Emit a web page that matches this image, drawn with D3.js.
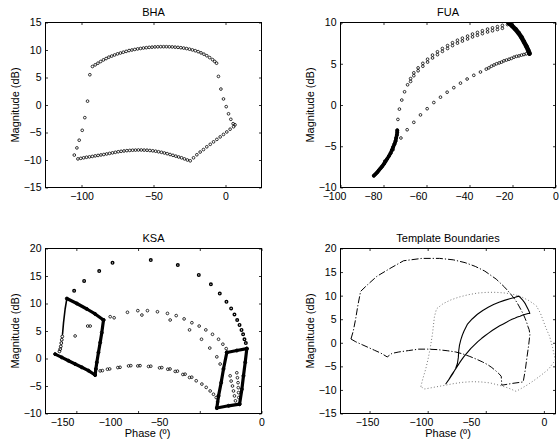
<!DOCTYPE html>
<html>
<head>
<meta charset="utf-8">
<script src="https://cdn.jsdelivr.net/npm/d3@7"></script>
<style>
  body { margin: 0; background: #fff; }
  svg text { font-family: "Liberation Sans", Arial, Helvetica, sans-serif; fill: #000; }
</style>
</head>
<body>
<svg id="fig" width="559" height="446"></svg>
<script>
'use strict';

// ---- tick values ----
const bhaXTicks = [-100, -50, 0];
const bhaYTicks = [-15, -10, -5, 0, 5, 10, 15];
const fuaXTicks = [-100, -80, -60, -40, -20, 0];
const fuaYTicks = [-10, -5, 0, 5, 10];
const ksaXTicks = [-150, -100, -50, 0];
const ksaYTicks = [-10, -5, 0, 5, 10, 15, 20];
const tplXTicks = [-150, -100, -50, 0];
const tplYTicks = [-15, -10, -5, 0, 5, 10, 15, 20];

// where the reference prints each x tick label (in axis units; the source figure
// has its negative labels drifted left of their tick marks)
const bhaXLabelAt = [-100, -50, 0];
const fuaXLabelAt = [-103, -84.9, -64, -42.6, -24, 0];
const ksaXLabelAt = [-161.6, -122.7, -83, 0];
const tplXLabelAt = [-152.2, -105.8, -62.8, 0];

// ---- BHA template points [phase, magnitude] ----
const bhaLeft = [[-105, -9.1], [-103.2, -7.8], [-101.6, -6.4], [-99.5, -4.6], [-97.7, -2.3], [-95.8, 0.7], [-94.2, 5.5]];
const bhaTop = [[-92.4, 7.0], [-90.5, 7.3], [-88.6, 7.6], [-86.7, 7.9], [-84.8, 8.2], [-82.9, 8.45], [-81, 8.7],
  [-79, 8.9], [-77, 9.1], [-75, 9.3], [-73, 9.45], [-71, 9.6], [-69, 9.75], [-67, 9.9], [-65, 10.0], [-63, 10.1],
  [-61, 10.2], [-59, 10.28], [-57, 10.36], [-55, 10.42], [-53, 10.48], [-51, 10.52], [-49, 10.56], [-47, 10.58],
  [-45, 10.6], [-43, 10.6], [-41, 10.6], [-39, 10.58], [-37, 10.56], [-35, 10.52], [-33, 10.48], [-31, 10.42],
  [-29, 10.35], [-27, 10.26], [-25, 10.15], [-23, 10.02], [-21, 9.87], [-19, 9.7], [-17, 9.48], [-15, 9.24],
  [-13, 8.96], [-11, 8.62], [-9, 8.25], [-7.5, 7.92], [-6.2, 7.6]];
const bhaRight = [[-4.9, 5.2], [-3.2, 2.9], [-1.4, 1.1], [0.5, -0.3], [2.1, -1.6], [3.7, -2.6], [5.3, -3.4], [6.6, -3.6]];
const bhaSlope = [[5.6, -3.95], [3.2, -4.4], [0.9, -4.9], [-1.4, -5.35], [-3.7, -5.8], [-6.0, -6.25], [-8.3, -6.7],
  [-10.6, -7.15], [-13.0, -7.6], [-15.3, -8.1], [-17.6, -8.55], [-19.9, -9.05], [-22.2, -9.6], [-24.5, -10.15]];
const bhaBottom = [[-26.5, -10.0], [-28.5, -9.8], [-30.5, -9.6], [-32.5, -9.45], [-34.5, -9.3], [-36.5, -9.15],
  [-38.5, -9.0], [-40.5, -8.85], [-42.5, -8.72], [-44.5, -8.6], [-46.5, -8.5], [-48.5, -8.4], [-50.5, -8.33],
  [-52.5, -8.27], [-54.5, -8.22], [-56.5, -8.2], [-58.5, -8.18], [-60.5, -8.18], [-62.5, -8.2], [-64.5, -8.22],
  [-66.5, -8.26], [-68.5, -8.3], [-70.5, -8.36], [-72.5, -8.42], [-74.5, -8.5], [-76.5, -8.6], [-78.5, -8.7],
  [-80.5, -8.8], [-82.5, -8.9], [-84.5, -9.0], [-86.5, -9.08], [-88.5, -9.17], [-90.5, -9.25], [-92.5, -9.35],
  [-94.5, -9.43], [-96.5, -9.5], [-98.5, -9.6], [-100.5, -9.7], [-102.5, -9.8]];

// ---- FUA template points ----
const fuaBendLow = [[-84.5, -8.57], [-83.7, -8.37], [-82.9, -8.16], [-82.2, -7.92], [-81.4, -7.67], [-80.6, -7.43],
  [-79.8, -7.14], [-79.1, -6.86], [-78.3, -6.53], [-77.5, -6.2], [-76.7, -5.84], [-76.1, -5.47], [-75.5, -5.1],
  [-74.9, -4.73], [-74.4, -4.37], [-74.1, -4.0], [-73.8, -3.63], [-73.6, -3.3], [-73.6, -3.06]];
const fuaUpper = [[-73.3, -1.75], [-72.6, -0.5], [-71.5, 0.6], [-70.2, 1.6], [-68.8, 2.45], [-67.4, 3.2], [-65.9, 3.9],
  [-63.9, 4.5], [-61.7, 5.05], [-59.5, 5.55], [-57.2, 6.05], [-54.9, 6.45], [-52.6, 6.85], [-50.2, 7.2],
  [-47.9, 7.55], [-45.6, 7.85], [-43.3, 8.1], [-40.9, 8.35], [-38.6, 8.6], [-36.3, 8.8], [-34.0, 9.0],
  [-31.6, 9.2], [-29.3, 9.35], [-27.0, 9.5], [-24.7, 9.65], [-22.3, 9.75]];
const fuaUpperInner = [[-67.4, 2.85], [-65.9, 3.55], [-63.9, 4.15], [-61.7, 4.7], [-59.5, 5.2], [-57.2, 5.7],
  [-54.9, 6.1], [-52.6, 6.5], [-50.2, 6.85], [-47.9, 7.2], [-45.6, 7.5], [-43.3, 7.75], [-40.9, 8.0],
  [-38.6, 8.25], [-36.3, 8.45], [-34.0, 8.65], [-31.6, 8.85], [-29.3, 9.0], [-27.0, 9.15], [-24.7, 9.3]];
const fuaLower = [[-79.4, -6.8], [-75.5, -5.4], [-71.9, -4.0], [-69.0, -3.0], [-65.9, -2.1], [-62.8, -1.2],
  [-59.7, -0.45], [-56.6, 0.3], [-53.5, 0.95], [-50.4, 1.55], [-47.3, 2.1], [-44.2, 2.65], [-41.1, 3.15],
  [-38.0, 3.6], [-34.9, 4.0], [-32.2, 4.35], [-31.0, 4.5], [-29.8, 4.7], [-28.6, 4.85], [-27.4, 5.0],
  [-26.2, 5.1], [-25.1, 5.2], [-24.0, 5.35], [-22.8, 5.45], [-21.6, 5.55], [-20.5, 5.65], [-19.3, 5.8],
  [-18.1, 5.9], [-17.0, 5.95], [-15.8, 6.05], [-14.7, 6.12], [-13.6, 6.2]];
const fuaBendHigh = [[-21.7, 9.92], [-20.2, 9.6], [-18.6, 9.18], [-17.1, 8.69], [-15.8, 8.2], [-14.7, 7.67],
  [-13.6, 7.14], [-12.7, 6.65], [-12.1, 6.24]];

// ---- KSA template points ----
const ksaOuter = [[-151.8, 12.3], [-143.7, 14.1], [-131.5, 15.9], [-120.7, 17.4], [-89.7, 17.9], [-67.8, 17.0],
  [-50.8, 15.2], [-41.0, 13.5], [-33.8, 11.8], [-28.4, 10.3], [-24.6, 9.1], [-21.9, 8.0], [-19.7, 7.0],
  [-17.8, 6.1], [-16.2, 5.2], [-14.9, 4.4], [-13.8, 3.5], [-12.7, 2.8]];
const ksaMidUpper = [[-122.6, 7.6], [-108.6, 8.4], [-100.2, 8.7], [-92.4, 8.7], [-84.3, 8.5], [-76.2, 8.2],
  [-69.1, 7.8], [-62.7, 7.2], [-56.4, 6.5], [-50.5, 5.9], [-45.1, 5.2], [-39.7, 4.4], [-34.8, 3.5],
  [-31.3, 2.6], [-28.6, 1.8]];
const ksaMidInner = [[-119.4, 7.4], [-96.9, 7.9], [-74.0, 7.0], [-58.3, 5.2], [-48.6, 3.5], [-41.9, 1.9],
  [-36.2, 0.3], [-33.5, -1.0]];
const ksaBottom = [[-130.7, -2.25], [-124.8, -1.95], [-116.4, -1.65], [-107.7, -1.35], [-100.2, -1.35],
  [-91.5, -1.45], [-82.6, -1.7], [-75.9, -1.95], [-69.9, -2.35], [-63.7, -2.9], [-58.3, -3.45], [-52.9, -4.05],
  [-48.3, -4.65], [-44.8, -5.25], [-41.6, -5.9], [-38.9, -6.5], [-36.7, -7.1], [-35.6, -7.9]];
const ksaBottomPair = [[-128.9, -2.2], [-123.0, -1.9], [-114.6, -1.6], [-105.9, -1.3], [-98.4, -1.3],
  [-89.7, -1.4], [-80.8, -1.65], [-74.1, -1.9], [-68.1, -2.3], [-61.9, -2.85], [-56.5, -3.4]];
const ksaLeftTop = [[-157.7, 10.9], [-149.6, 10.0], [-141.5, 9.0], [-134.8, 8.1], [-128.0, 7.0]];
const ksaLeftRight = [[-128.0, 7.0], [-129.4, 4.7], [-130.7, 2.9], [-132.1, 1.1], [-133.4, -0.7], [-134.2, -1.9], [-134.8, -3.0]];
const ksaLeftBottom = [[-167.2, 0.8], [-161.8, 0.2], [-156.4, -0.4], [-151.0, -1.0], [-145.6, -1.6], [-140.2, -2.2], [-134.8, -3.0]];
const ksaLeftSide = [[-157.7, 10.9], [-159.1, 9.0], [-160.4, 6.5], [-161.2, 4.4]];
const ksaLeftStack = [[-161.4, 4.0], [-161.8, 3.4], [-162.2, 2.8], [-162.6, 2.2], [-163.1, 1.7], [-163.7, 1.3]];
const ksaLeftInner = [[-151.0, 4.1], [-140.8, 5.9], [-138.8, 5.9]];
const ksaRightTop = [[-28.1, 1.1], [-20.0, 1.45], [-11.9, 1.8]];
const ksaRightSide = [[-11.9, 1.8], [-13.2, -0.7], [-14.6, -3.15], [-15.9, -5.6], [-17.8, -8.3]];
const ksaRightBottom = [[-17.8, -8.3], [-26.7, -8.6], [-36.2, -9.0]];
const ksaRightLeft = [[-36.2, -9.0], [-34.8, -6.8], [-32.7, -4.4], [-30.8, -1.9], [-28.1, 1.1]];
const ksaRightInner = [[-25.4, -3.15], [-24.6, -4.1], [-23.5, -5.0], [-22.7, -5.9], [-21.9, -6.8], [-21.1, -7.7],
  [-20.0, -2.6], [-19.5, -3.5], [-19.0, -4.4], [-18.8, -5.3], [-18.6, -6.2], [-18.4, -7.1]];

// ---- template boundaries ----
const tplKsa = [[-166.0, 0.8], [-164.0, 2.5], [-162.0, 5.0], [-160.0, 8.0], [-157.7, 10.9], [-151.8, 12.3],
  [-143.7, 14.1], [-131.5, 15.9], [-120.7, 17.4], [-105.0, 17.9], [-89.7, 17.9], [-78.0, 17.6], [-67.8, 17.0],
  [-59.0, 16.2], [-50.8, 15.2], [-41.0, 13.5], [-33.8, 11.8], [-28.4, 10.3], [-24.6, 9.1], [-21.9, 8.0],
  [-19.7, 7.0], [-17.8, 6.1], [-16.2, 5.2], [-14.9, 4.4], [-13.8, 3.5], [-12.7, 2.8], [-12.0, 1.8],
  [-13.2, -0.7], [-14.6, -3.15], [-15.9, -5.6], [-17.8, -8.3], [-26.7, -8.6], [-36.2, -9.0], [-36.7, -7.1],
  [-38.9, -6.5], [-41.6, -5.9], [-44.8, -5.25], [-48.3, -4.65], [-52.9, -4.05], [-58.3, -3.45], [-63.7, -2.9],
  [-69.9, -2.35], [-75.9, -1.95], [-82.6, -1.7], [-91.5, -1.45], [-100.2, -1.35], [-107.7, -1.35],
  [-116.4, -1.65], [-124.8, -1.95], [-130.7, -2.25], [-134.8, -3.0], [-140.2, -2.2], [-145.6, -1.6],
  [-151.0, -1.0], [-156.4, -0.4], [-161.8, 0.2], [-166.0, 0.8]];
const tplBha = [[-105.9, -9.3], [-104.0, -7.5], [-101.6, -5.5], [-99.5, -3.3], [-97.7, -1.0], [-95.8, 2.0],
  [-94.2, 5.5], [-92.4, 7.2], [-86.7, 8.3], [-80.0, 9.1], [-73.0, 9.7], [-65.0, 10.2], [-57.0, 10.55],
  [-49.0, 10.7], [-41.0, 10.7], [-33.0, 10.55], [-25.0, 10.2], [-19.0, 9.7], [-13.0, 8.96], [-9.0, 8.3],
  [-6.4, 7.8], [-3.0, 6.3], [-0.9, 4.9], [2.0, 3.0], [4.9, 1.4], [7.5, -1.0], [9.8, -3.7], [4.0, -5.6],
  [-2.0, -6.8], [-8.0, -7.9], [-14.0, -8.9], [-19.5, -9.7], [-23.9, -10.3], [-30.5, -9.6], [-38.5, -9.0],
  [-46.5, -8.5], [-54.5, -8.3], [-62.5, -8.25], [-70.5, -8.4], [-78.5, -8.7], [-86.5, -9.08], [-94.5, -9.43],
  [-102.5, -9.8], [-105.9, -9.3]];
const tplFua = [[-84.3, -8.7], [-81.5, -7.7], [-78.5, -6.6], [-76.0, -5.5], [-74.4, -4.4], [-73.6, -3.1],
  [-73.3, -1.75], [-72.6, -0.5], [-71.5, 0.6], [-70.2, 1.6], [-68.8, 2.45], [-65.9, 3.9], [-61.7, 5.05],
  [-57.2, 6.05], [-52.6, 6.85], [-47.9, 7.55], [-43.3, 8.1], [-38.6, 8.6], [-34.0, 9.0], [-29.3, 9.35],
  [-24.7, 9.65], [-21.7, 9.9], [-20.2, 9.6], [-18.6, 9.18], [-17.1, 8.69], [-15.8, 8.2], [-14.7, 7.67],
  [-13.6, 7.14], [-12.7, 6.65], [-12.1, 6.24], [-13.6, 6.2], [-15.8, 6.05], [-18.1, 5.9], [-20.5, 5.65],
  [-22.8, 5.45], [-25.1, 5.2], [-27.4, 5.0], [-29.8, 4.7], [-32.2, 4.35], [-34.9, 4.0], [-38.0, 3.6],
  [-41.1, 3.15], [-44.2, 2.65], [-47.3, 2.1], [-50.4, 1.55], [-53.5, 0.95], [-56.6, 0.3], [-59.7, -0.45],
  [-62.8, -1.2], [-65.9, -2.1], [-69.0, -3.0], [-71.9, -4.0], [-75.5, -5.4], [-79.4, -6.8], [-82.0, -7.9],
  [-84.3, -8.7]];

// ---- layout ----
const FONT = 11;
const TICK_FONT = 10.5;
const TICK = 2.5;
const col1 = [45.5, 261.5];
const col2 = [340.5, 555.5];
const row1 = [22.5, 187.5];
const row2 = [248.5, 413.5];

const svg = d3.select('#fig');
let clipId = 0;

/**
 * Draws one subplot frame (box, inward ticks on all sides, labels) and returns its scales.
 */
function makePanel(cfg) {
    const cols = cfg.cols, rows = cfg.rows;
    const x = d3.scaleLinear().domain(cfg.xDomain).range(cols);
    const y = d3.scaleLinear().domain(cfg.yDomain).range([rows[1], rows[0]]);
    const fmt = x.tickFormat();
    const g = svg.append('g');

    // tick marks, inward on all four sides
    g.append('g').attr('transform', 'translate(0,' + rows[1] + ')')
        .call(d3.axisBottom(x).tickValues(cfg.xTicks).tickSize(-TICK).tickFormat(''));
    g.append('g').attr('transform', 'translate(0,' + rows[0] + ')')
        .call(d3.axisTop(x).tickValues(cfg.xTicks).tickSize(-TICK).tickFormat(''));
    const ay = g.append('g').attr('transform', 'translate(' + cols[0] + ',0)')
        .call(d3.axisLeft(y).tickValues(cfg.yTicks).tickSize(-TICK).tickPadding(4));
    g.append('g').attr('transform', 'translate(' + cols[1] + ',0)')
        .call(d3.axisRight(y).tickValues(cfg.yTicks).tickSize(-TICK).tickFormat(''));

    // x tick labels where the reference prints them
    const ax = g.append('g').attr('class', 'xlabels').attr('transform', 'translate(0,' + rows[1] + ')')
        .call(d3.axisBottom(x).tickValues(cfg.xLabelAt).tickSize(0).tickPadding(5)
            .tickFormat((d, i) => fmt(cfg.xTicks[i])));
    ax.selectAll('.tick line').remove();

    g.selectAll('.domain').remove();
    g.selectAll('.tick line').attr('stroke', '#000').attr('stroke-width', 0.8);
    g.selectAll('.tick text').attr('font-size', TICK_FONT);
    ax.attr('font-family', null);
    ay.attr('font-family', null);

    g.append('rect')
        .attr('x', cols[0]).attr('y', rows[0])
        .attr('width', cols[1] - cols[0]).attr('height', rows[1] - rows[0])
        .attr('fill', 'none').attr('stroke', '#000').attr('stroke-width', 1);

    g.append('text')
        .attr('x', (cols[0] + cols[1]) / 2).attr('y', rows[0] - 7)
        .attr('text-anchor', 'middle').attr('font-size', FONT)
        .text(cfg.title);

    g.append('text')
        .attr('transform', 'translate(' + (cols[0] - 30) + ',' + ((rows[0] + rows[1]) / 2) + ') rotate(-90)')
        .attr('dy', '0.35em')
        .attr('text-anchor', 'middle').attr('font-size', FONT)
        .text('Magnitude (dB)');

    if (cfg.xLabel) {
        g.append('text')
            .attr('x', (cols[0] + cols[1]) / 2 + (cfg.xLabelShift || 0)).attr('y', rows[1] + 23)
            .attr('text-anchor', 'middle').attr('font-size', FONT)
            .text(cfg.xLabel);
    }

    const id = 'clip' + (clipId++);
    svg.append('clipPath').attr('id', id).append('rect')
        .attr('x', cols[0]).attr('y', rows[0])
        .attr('width', cols[1] - cols[0]).attr('height', rows[1] - rows[0]);
    const plot = svg.append('g').attr('clip-path', 'url(#' + id + ')');

    return {x: x, y: y, plot: plot};
}

function dots(p, data, r, sw) {
    p.plot.append('g').selectAll('circle')
        .data(data).enter()
        .append('circle')
        .attr('cx', d => p.x(d[0]))
        .attr('cy', d => p.y(d[1]))
        .attr('r', r || 1.35)
        .attr('fill', 'none')
        .attr('stroke', '#000')
        .attr('stroke-width', sw || 0.8);
}

function curve(p, data, width, dash, color) {
    const line = d3.line().x(d => p.x(d[0])).y(d => p.y(d[1]));
    p.plot.append('path')
        .datum(data)
        .attr('d', line)
        .attr('fill', 'none')
        .attr('stroke', color || '#000')
        .attr('stroke-width', width)
        .attr('stroke-linecap', dash ? 'butt' : 'round')
        .attr('stroke-linejoin', 'round')
        .attr('stroke-dasharray', dash || null);
}

// ---- BHA ----
const bha = makePanel({cols: col1, rows: row1, xDomain: [-125, 25], yDomain: [-15, 15],
    xTicks: bhaXTicks, xLabelAt: bhaXLabelAt, yTicks: bhaYTicks, title: 'BHA'});
[bhaLeft, bhaTop, bhaRight, bhaSlope, bhaBottom].forEach(s => dots(bha, s));

// ---- FUA ----
const fua = makePanel({cols: col2, rows: row1, xDomain: [-100, 0], yDomain: [-10, 10],
    xTicks: fuaXTicks, xLabelAt: fuaXLabelAt, yTicks: fuaYTicks, title: 'FUA'});
curve(fua, fuaBendLow, 3.6);
curve(fua, fuaBendHigh, 4.6);
dots(fua, fuaBendLow, 1.5, 1);
dots(fua, fuaBendHigh, 1.6, 1.2);
dots(fua, fuaUpper);
dots(fua, fuaUpperInner);
dots(fua, fuaLower);

// ---- KSA ----
const ksa = makePanel({cols: col1, rows: row2, xDomain: [-175, 0], yDomain: [-10, 20],
    xTicks: ksaXTicks, xLabelAt: ksaXLabelAt, yTicks: ksaYTicks, title: 'KSA',
    xLabel: 'Phase (\u00ba)', xLabelShift: -6});
[ksaLeftTop, ksaLeftRight, ksaLeftBottom, ksaRightTop, ksaRightSide, ksaRightBottom, ksaRightLeft]
    .forEach(s => { curve(ksa, s, 3.2); dots(ksa, s, 1.5, 1); });
curve(ksa, ksaLeftSide, 1.6);
dots(ksa, ksaLeftStack, 1.4, 0.9);
dots(ksa, ksaLeftInner);
dots(ksa, ksaRightInner);
dots(ksa, ksaOuter, 1.3, 1.4);
dots(ksa, ksaMidUpper);
dots(ksa, ksaMidInner);
dots(ksa, ksaBottom);
dots(ksa, ksaBottomPair);

// ---- Template Boundaries ----
const tpl = makePanel({cols: col2, rows: row2, xDomain: [-175, 10], yDomain: [-15, 20],
    xTicks: tplXTicks, xLabelAt: tplXLabelAt, yTicks: tplYTicks, title: 'Template Boundaries',
    xLabel: 'Phase (\u00ba)'});
curve(tpl, tplKsa, 1, '7,2,1.2,2');
curve(tpl, tplBha, 0.9, '1,2.2', '#666');
curve(tpl, tplFua, 1.1);
</script>
</body>
</html>
